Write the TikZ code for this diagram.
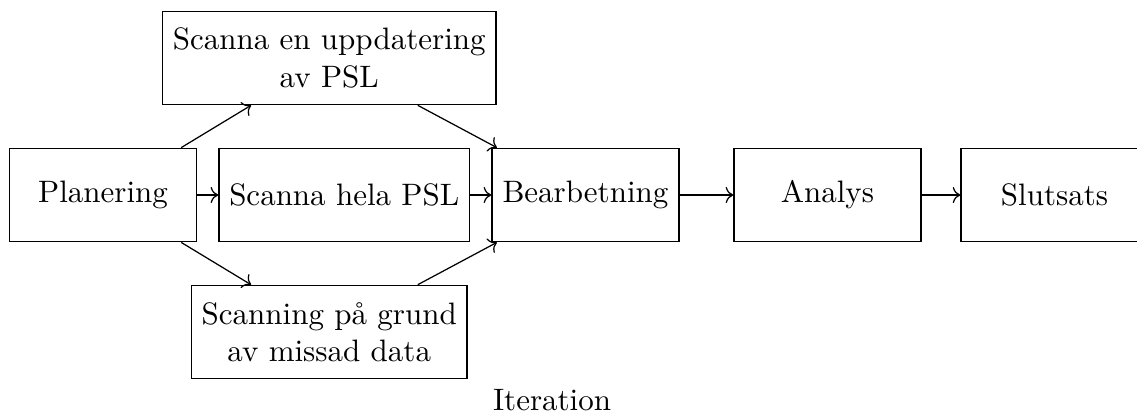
\documentclass[tikz,border=0pt]{standalone}
\usepackage{tikz}
\usetikzlibrary{arrows.meta, positioning}

\begin{document}
\begin{tikzpicture}[
    box/.style={draw, minimum width=2.12cm, minimum height=1.06cm, align=center},
    arrow/.style={->},
    node distance=0.24cm
]
\useasboundingbox (0,0) rectangle (12.891,4.717);

\node[box] (plan) at (1.168,2.506) {Planering};
\node[box, right=of plan] (hela) {Scanna hela PSL};
\node[box, right=of hela] (bear) {Bearbetning};
\node[box, right=0.61cm of bear] (analys) {Analys};
\node[box, right=0.44cm of analys] (slut) {Slutsats};

\node[box, above=0.48cm of hela, xshift=-0.17cm] (uppd) {Scanna en uppdatering\\av PSL};
\node[box, below=0.48cm of hela, xshift=-0.17cm] (missad) {Scanning på grund\\av missad data};

\node (iter) at (6.259,0.181) {Iteration};

\draw[arrow] (plan) -- (hela);
\draw[arrow] (plan) -- (uppd);
\draw[arrow] (plan) -- (missad);
\draw[arrow] (hela) -- (bear);
\draw[arrow] (uppd) -- (bear);
\draw[arrow] (missad) -- (bear);
\draw[arrow] (bear) -- (analys);
\draw[arrow] (analys) -- (slut);

\end{tikzpicture}
\end{document}
